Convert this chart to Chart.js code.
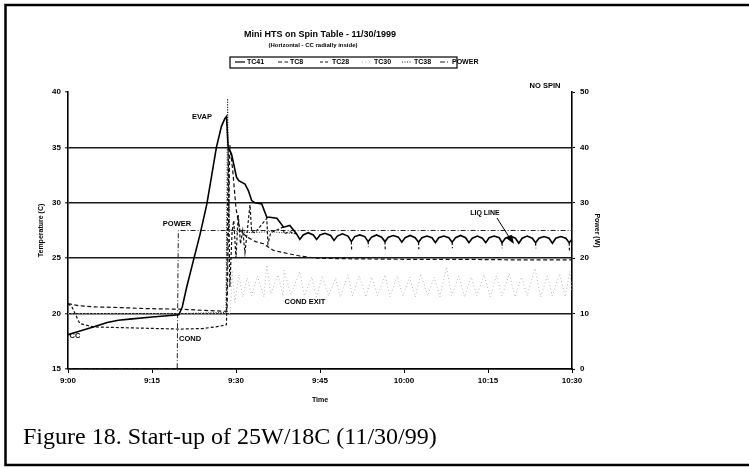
<!DOCTYPE html>
<html><head><meta charset="utf-8">
<script src="https://cdn.jsdelivr.net/npm/chart.js@4.4.1/dist/chart.umd.min.js"></script>
<style>html,body{margin:0;padding:0;background:#fff;}#wrap{width:749px;height:468px;position:relative;}</style>
</head><body><div id="wrap"><canvas id="c"></canvas></div>
<script>
// ---- data (minutes after 9:00) ----
const timeTickLabels = ['9:00','9:15','9:30','9:45','10:00','10:15','10:30'];
const seriesNames = ['TC41','TC8','TC28','TC30','TC38','POWER'];

const tc41Time = [0,2,4.5,7,9,11,15,19.8,20.4,21.2,22.4,23.6,24.8,25.6,26.5,27.4,28.0,28.3,28.6,29.2,30.1,30.5,31.6,32.2,32.8,33.4,34.6,35.5,36.0,37.3,38.5,39.6,40.8,
  41.4,42.0,42.9,43.8,44.4,45.0,45.9,46.9,47.5,48.1,49.0,50.0,50.6,51.2,52.1,53.0,53.6,54.2,55.1,56.0,56.6,57.2,58.1,59.0,59.6,60.2,61.1,62.0,
  62.6,63.2,64.1,65.0,65.6,66.2,67.1,68.0,68.6,69.2,70.1,71.0,71.6,72.2,73.1,74.0,74.6,75.2,76.1,77.0,77.5,78.1,79.0,79.9,80.5,81.1,82.0,82.9,
  83.5,84.1,85.0,85.9,86.5,87.1,88.0,88.9,89.5,90];
const tc41Temp = [18.1,18.4,18.8,19.2,19.4,19.5,19.7,19.9,20.6,22.4,24.8,27.2,29.9,32.3,35.0,36.9,37.6,37.8,35.0,34.4,32.3,32.0,31.7,31.1,30.2,30.0,29.9,28.7,28.7,28.6,27.8,27.95,27.2,
  26.7,27.1,27.3,27.1,26.7,27.1,27.25,27.05,26.6,27.0,27.2,27.0,26.5,26.95,27.1,26.95,26.5,26.9,27.1,26.9,26.5,26.9,27.05,26.9,26.45,26.85,27.05,26.85,
  26.45,26.85,27.0,26.85,26.4,26.85,27.0,26.85,26.45,26.85,27.05,26.85,26.4,26.8,27.0,26.8,26.4,26.85,27.0,26.85,26.4,26.8,27.0,26.8,26.35,26.8,27.0,26.8,
  26.4,26.8,26.95,26.8,26.35,26.8,26.95,26.8,26.4,26.7];

const tc8Time = [0,2,5,9,14,20,24,28.4,28.9,29.4,30.0,30.7,32.0,33.5,34.9,36.7,38.5,41.4,44.4,50,60,70,80,90];
const tc8Temp = [20.9,20.7,20.6,20.55,20.45,20.4,20.3,20.2,35.2,33.0,29.5,27.5,26.9,26.5,26.3,25.7,25.5,25.2,25.0,24.95,24.9,24.9,24.85,24.85];

const tc28Time = [0,0.7,2.1,4.5,8,12,16,20,24,27,28.3,28.6,28.9,29.3,29.6,30.0,30.4,30.8,31.2,31.6,32.5,32.8,33.4,35.5,35.7,36.2,38.4,38.6,39.5,40.8,40.9,
  50.6,50.65,50.7,53.6,53.65,53.7,56.6,56.65,56.7,62.6,62.65,62.7,68.6,68.65,68.7,77.5,77.55,77.6,83.5,83.55,83.6,89.5,89.55];
const tc28Temp = [20.9,20.6,19.1,18.8,18.75,18.7,18.65,18.6,18.65,18.85,19.0,35.0,22.4,27.4,28.4,25.0,28.9,26.3,27.5,25.5,29.8,27.4,27.3,28.6,26.3,27.3,27.8,27.2,27.4,27.2,null,
  26.5,25.7,null,26.5,26.0,null,26.5,25.8,null,26.45,25.8,null,26.45,25.9,null,26.4,25.9,null,26.4,25.9,null,26.4,25.7];

const tc30Time = [0,10,20,29.0,29.3,29.8,30.5,31.2,32.0,32.8,33.8,35.0,35.5,36.2,37.5,38.4,38.6,39.8,41.4,42.2,43.5,44.4,45.4,46.5,47.8,48.6,50.0,50.8,52.0,53.2,54.2,55.3,56.6,57.5,58.8,59.8,61.0,62.0,63.0,64.2,65.4,66.4,67.6,68.5,69.8,70.8,72.0,73.0,74.3,75.4,76.5,77.5,78.8,79.8,81.0,82.0,83.4,84.4,85.6,86.5,87.8,88.8,89.6,90];
const tc30Temp = [20.0,20.0,20.0,20.0,23.9,21.0,23.5,21.5,23.2,21.6,23.4,21.5,24.4,21.8,23.5,21.6,23.9,21.7,23.8,21.6,23.3,21.5,23.4,21.6,23.2,21.5,23.5,21.6,23.4,21.5,23.3,21.6,23.5,21.5,23.4,21.6,23.3,21.5,23.6,21.6,23.3,21.5,24.2,21.6,23.4,21.5,23.3,21.6,23.5,21.5,23.4,21.6,23.6,21.5,23.3,21.6,24.1,21.5,23.4,21.6,23.6,21.5,23.8,22.0];

const tc38Time = [0,10,20,28.2,28.5,28.8,30,33,36,38.4,40.8];
const tc38Temp = [20.0,20.0,20.0,20.1,39.4,27.6,27.4,27.3,27.4,27.3,27.2];

const powerTime = [0,19.5,19.7,90];
const powerWatts = [0,0,25,25];

// ---- helpers ----
function pts(t, v){ return t.map((x,i)=>({x:x, y:v[i]})); }
const SANS = '"Liberation Sans", Arial, sans-serif';

const datasets = [
  {label:seriesNames[0], data:pts(tc41Time,tc41Temp), borderColor:'#000', borderWidth:1.6, borderDash:[], yAxisID:'y'},
  {label:seriesNames[1], data:pts(tc8Time,tc8Temp), borderColor:'#111', borderWidth:1.2, borderDash:[4,2.5], yAxisID:'y'},
  {label:seriesNames[2], data:pts(tc28Time,tc28Temp), borderColor:'#111', borderWidth:1.2, borderDash:[3,2], yAxisID:'y'},
  {label:seriesNames[3], data:pts(tc30Time,tc30Temp), borderColor:'#b4b4b4', borderWidth:1, borderDash:[1,2.5], yAxisID:'y'},
  {label:seriesNames[4], data:pts(tc38Time,tc38Temp), borderColor:'#222', borderWidth:1, borderDash:[1,1.5], yAxisID:'y'},
  {label:seriesNames[5], data:pts(powerTime,powerWatts), borderColor:'#222', borderWidth:1, borderDash:[5,2,1,2], yAxisID:'y2'}
].map(d=>Object.assign({pointRadius:0, tension:0, fill:false, spanGaps:false}, d));

const decor = {
  id:'decor',
  afterDraw(chart){
    const c = chart.ctx;
    c.save();
    // frame
    c.strokeStyle='#000'; c.lineWidth=2.5; c.setLineDash([]);
    c.beginPath(); c.moveTo(749,5); c.lineTo(5.5,5); c.lineTo(5.5,465); c.lineTo(749,465); c.stroke();
    c.fillStyle='#000'; c.textAlign='center'; c.textBaseline='middle';
    c.font='bold 9px '+SANS; c.fillText('Mini HTS on Spin Table - 11/30/1999', 320, 35);
    c.font='bold 6px '+SANS; c.fillText('(Horizontal - CC radially inside)', 313, 45);
    // legend
    const lx0=230, ly=62;
    c.lineWidth=1.2; c.strokeRect(lx0, 57, 227, 11);
    const slots=[235,278,320,362,402,440];
    c.font='bold 7px '+SANS; c.textAlign='left';
    chart.data.datasets.forEach((ds,i)=>{
      const x=slots[i];
      c.save(); c.strokeStyle=ds.borderColor; c.lineWidth=1.2; c.setLineDash(ds.borderDash||[]);
      c.beginPath(); c.moveTo(x, ly); c.lineTo(x+10, ly); c.stroke(); c.restore();
      c.fillText(ds.label, x+12, ly+0.5);
    });
    // annotations
    c.textAlign='center';
    c.font='bold 7.5px '+SANS;
    c.fillText('EVAP', 202, 117);
    c.fillText('POWER', 177, 224);
    c.fillText('COND EXIT', 305, 302);
    c.fillText('COND', 190, 339);
    c.fillText('CC', 75, 336);
    c.fillText('NO SPIN', 545, 86);
    c.font='bold 7px '+SANS;
    c.fillText('LIQ LINE', 485, 213);
    // arrow
    c.lineWidth=1; c.beginPath(); c.moveTo(497,218); c.lineTo(511,240); c.stroke();
    c.beginPath(); c.moveTo(514,244); c.lineTo(506,238); c.lineTo(512,235); c.closePath(); c.fill();
    // caption
    c.textAlign='left'; c.textBaseline='alphabetic';
    c.font='24px "Liberation Serif", "Times New Roman", serif';
    c.fillText('Figure 18. Start-up of 25W/18C (11/30/99)', 23, 444);
    c.restore();
  }
};

new Chart(document.getElementById('c'), {
  type:'line',
  data:{datasets:datasets},
  options:{
    responsive:true, maintainAspectRatio:false, animation:false,
    layout:{padding:{left:0,right:0,top:92,bottom:59}},
    plugins:{legend:{display:false}, tooltip:{enabled:false}, title:{display:false}},
    scales:{
      x:{type:'linear', min:0, max:90,
        afterFit(s){ s.height=40; },
        ticks:{stepSize:15, maxRotation:0, padding:3, color:'#000', font:{family:SANS, size:8, weight:'bold'},
          callback:(v)=>timeTickLabels[Math.round(v/15)]},
        grid:{drawOnChartArea:false, drawTicks:true, tickLength:4, color:'#000'},
        border:{color:'#000', width:1.6},
        title:{display:true, text:'Time', color:'#000', font:{family:SANS,size:7,weight:'bold'}, padding:{top:0,bottom:5}}
      },
      y:{position:'left', min:15, max:40,
        afterFit(s){ s.width=68; },
        ticks:{stepSize:5, padding:4, color:'#000', font:{family:SANS,size:8,weight:'bold'}},
        grid:{color:(ctx)=> (ctx.tick && ctx.tick.value===40) ? 'rgba(0,0,0,0)' : '#1a1a1a', lineWidth:1.6, tickLength:3, tickColor:'#000', tickWidth:1},
        border:{color:'#000', width:1.6},
        title:{display:true, text:'Temperature (C)', color:'#000', font:{family:SANS,size:7,weight:'bold'}, padding:{top:37,bottom:0}}
      },
      y2:{position:'right', min:0, max:50,
        afterFit(s){ s.width=177; },
        ticks:{stepSize:10, padding:5, color:'#000', font:{family:SANS,size:8,weight:'bold'}},
        grid:{drawOnChartArea:false, tickLength:3, color:'#000'},
        border:{color:'#000', width:1.6},
        title:{display:true, text:'Power (W)', color:'#000', font:{family:SANS,size:7,weight:'bold'}, padding:{top:148,bottom:0}}
      }
    }
  },
  plugins:[decor]
});
</script></body></html>
